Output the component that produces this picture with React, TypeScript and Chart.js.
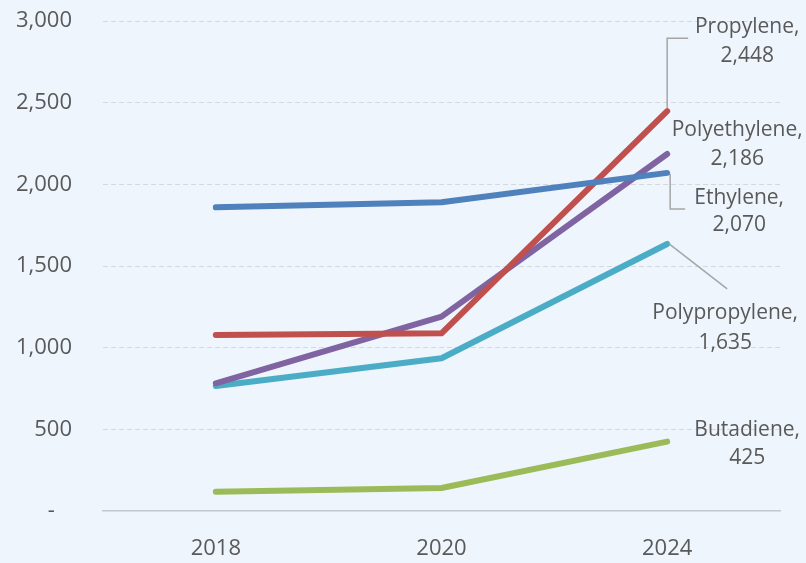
import React, { useEffect, useRef } from "react";
import { Chart, registerables } from "chart.js";

Chart.register(...registerables);

const years = ["2018", "2020", "2024"];
const seriesNames = ["Ethylene", "Propylene", "Polyethylene", "Polypropylene", "Butadiene"];
const ethylene = [1859, 1890, 2070];
const propylene = [1077, 1088, 2448];
const polyethylene = [782, 1190, 2186];
const polypropylene = [765, 935, 1635];
const butadiene = [118, 141, 425];
const yTicks = [0, 500, 1000, 1500, 2000, 2500, 3000];

const colors = ["#4f81bd", "#c0504d", "#8064a2", "#4bacc6", "#9bbb59"];

// label layout relative to the last point of each series: [dx, dy line1, dy line2]
const labelOffsets = [
  [72, 25, 52],
  [80, -84, -55],
  [70, -24, 5],
  [58, 69, 99],
  [80, -12, 16],
];
// leader lines relative to the last point
const leaders: (number[][] | null)[] = [
  [[3, 1], [3, 36], [18, 36]],
  [[0, -3], [0, -73], [21, -73]],
  null,
  [[2, 0], [60, 45]],
  null,
];

const FONT = "'Open Sans', 'Noto Sans', sans-serif";
const TEXT = "#595959";

const labelPlugin = {
  id: "endLabels",
  afterDatasetsDraw(chart: any) {
    const ctx = chart.ctx;
    ctx.save();
    chart.data.datasets.forEach((ds: any, i: number) => {
      const meta = chart.getDatasetMeta(i);
      const pt = meta.data[meta.data.length - 1];
      const v = ds.data[ds.data.length - 1];
      const ld = leaders[i];
      if (ld) {
        ctx.beginPath();
        ctx.strokeStyle = "#a6a6a6";
        ctx.lineWidth = 1.5;
        ld.forEach((p, k) => {
          if (k === 0) ctx.moveTo(pt.x + p[0], pt.y + p[1]);
          else ctx.lineTo(pt.x + p[0], pt.y + p[1]);
        });
        ctx.stroke();
      }
      const off = labelOffsets[i];
      ctx.fillStyle = TEXT;
      ctx.font = `21px ${FONT}`;
      ctx.textAlign = "center";
      ctx.textBaseline = "middle";
      ctx.fillText(ds.label + ",", pt.x + off[0], pt.y + off[1]);
      ctx.fillText(Number(v).toLocaleString("en-US"), pt.x + off[0], pt.y + off[2]);
    });
    ctx.restore();
  },
};

export default function App() {
  const ref = useRef<HTMLCanvasElement>(null);
  useEffect(() => {
    document.body.style.margin = "0";
    const values = [ethylene, propylene, polyethylene, polypropylene, butadiene];
    const chart = new Chart(ref.current as HTMLCanvasElement, {
      type: "line",
      data: {
        labels: years,
        datasets: seriesNames.map((n, i) => ({
          label: n,
          data: values[i],
          borderColor: colors[i],
          backgroundColor: colors[i],
          borderWidth: 6,
          pointRadius: 0,
          tension: 0,
          borderCapStyle: "round" as const,
          borderJoinStyle: "round" as const,
        })),
      },
      options: {
        animation: false,
        responsive: false,
        layout: { padding: { top: 21, right: 26, left: 0, bottom: 0 } },
        plugins: { legend: { display: false }, tooltip: { enabled: false } },
        scales: {
          x: {
            offset: true,
            grid: { display: false, drawTicks: false },
            border: { display: true, color: "#c4c8cc", width: 1.5 },
            ticks: { color: TEXT, font: { family: FONT, size: 22 }, padding: 25 },
            afterFit: (s: any) => {
              s.height = 52;
            },
          },
          y: {
            min: 0,
            max: 3000,
            afterBuildTicks: (s: any) => {
              s.ticks = yTicks.map((v) => ({ value: v }));
            },
            grid: {
              drawTicks: false,
              color: (c: any) => (c.tick && c.tick.value === 0 ? "rgba(0,0,0,0)" : "#d3d8dd"),
              lineWidth: 1,
            },
            border: { display: false, dash: [5, 3] },
            ticks: {
              color: TEXT,
              font: { family: FONT, size: 22 },
              padding: 31,
              callback: (v: any) => (Number(v) === 0 ? "-   " : Number(v).toLocaleString("en-US")),
            },
            afterFit: (s: any) => {
              s.width = 103;
              s.paddingTop = 0;
              s.paddingBottom = 0;
            },
          },
        },
      },
      plugins: [labelPlugin],
    });
    return () => chart.destroy();
  }, []);
  return (
    <div style={{ width: 806, height: 563, background: "#eef5fc" }}>
      <canvas ref={ref} width={806} height={563} />
    </div>
  );
}
